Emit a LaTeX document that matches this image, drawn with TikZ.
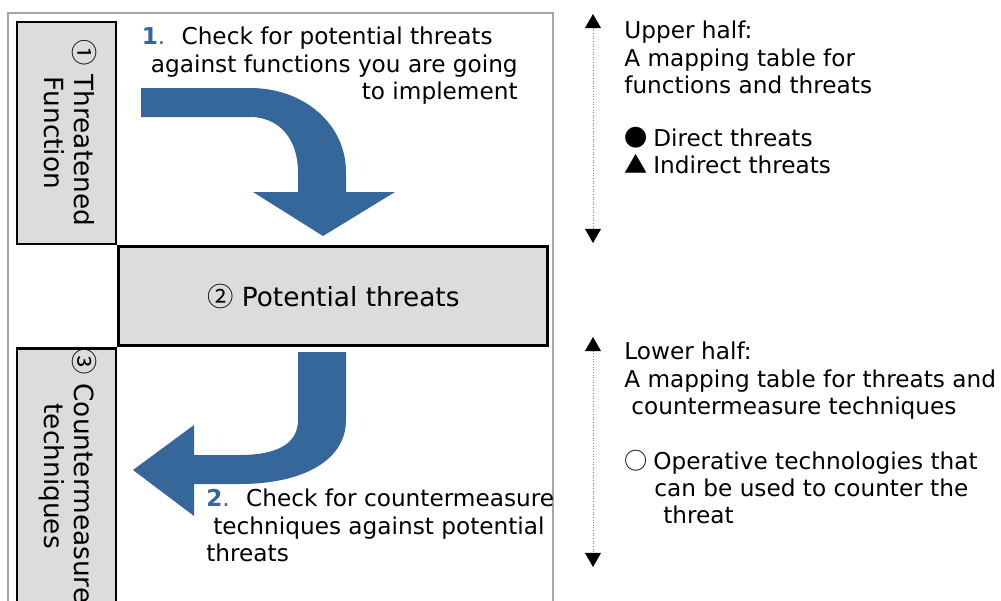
\documentclass[tikz,border=0pt]{standalone}
\usepackage{graphicx}
\usepackage{fontspec}
\setmainfont{DejaVu Sans}
\newfontfamily\markfont{Noto Sans CJK JP}
\usepackage{tikz}
\usetikzlibrary{arrows.meta, positioning}
\definecolor{flowblue}{HTML}{35679A}
\definecolor{boxgray}{HTML}{DCDCDC}
\definecolor{framegray}{HTML}{A6A6A6}
\tikzstyle{box} = [rectangle, line width=1.6pt, draw=black, fill=boxgray, inner sep=0pt, align=center, font=\fontsize{15}{17}\selectfont]
\tikzstyle{note} = [inner sep=0pt, font=\fontsize{13.2}{15.4}\selectfont]
\tikzstyle{flow} = [fill=flowblue, draw=none]
\tikzstyle{frame} = [draw=framegray, line width=0.6pt]
\tikzstyle{span} = [densely dotted, draw=gray, line width=0.5pt, {Triangle[width=9pt,length=8pt,color=black]}-{Triangle[width=9pt,length=8pt,color=black]}]
\newcommand{\stepno}[1]{\textcolor{flowblue}{\textbf{#1}.}\hspace{0.7em}}
\newcommand{\mk}[1]{{\markfont #1}}

\begin{document}
\begin{tikzpicture}[x=0.2mm, y=-0.2mm]
		\useasboundingbox (0,0) rectangle (1001,601);
		\draw [frame] (8,620) |- (553,13) -- (553,620);
		\node (Threatened) [box, minimum width=1.98cm, minimum height=4.44cm] at (66.5,133) {\rotatebox{-90}{\begin{tabular}{@{}c@{}}\mk{①} Threatened\\Function\end{tabular}}};
		\node (Potential) [box, minimum width=8.58cm, minimum height=1.98cm, anchor=north west] at (Threatened.south east) {\mk{②} Potential threats};
		\node (Counter) [box, minimum width=1.98cm, minimum height=5.1cm, anchor=north east] at (Potential.south west) {\rotatebox{-90}{\begin{tabular}{@{}c@{}}\mk{③} Countermeasure\\techniques\end{tabular}}};
		\fill [flow] (141,88) -- (250,88) .. controls (305,88) and (346,125) .. (346,172) -- (346,192) -- (395,192) -- (323,236) -- (253,192) -- (298,192) -- (298,172) .. controls (298,140) and (280,117) .. (250,117) -- (141,117) -- cycle;
		\fill [flow] (298,352) -- (346,352) -- (346,420) .. controls (346,462) and (300,484) .. (240,484) -- (194,484) -- (194,516) -- (133,470) -- (194,425) -- (194,455) -- (240,455) .. controls (280,455) and (298,442) .. (298,420) -- cycle;
		\node (StepOne) [note, align=right, anchor=north east] at (518,27) {\stepno{1}Check for potential threats\hspace*{0.5cm}\\against functions you are going\\to implement};
		\node (StepTwo) [note, align=left, anchor=north west] at (206,489) {\stepno{2}Check for countermeasure\\\hspace*{0.14cm}techniques against potential\\threats};
		\coordinate (UpperTop) at (593,14);
		\coordinate (UpperBottom) at (593,243);
		\coordinate (LowerTop) at (593,337);
		\coordinate (LowerBottom) at (593,567);
		\draw [span] (UpperTop) -- (UpperBottom);
		\draw [span] (LowerTop) -- (LowerBottom);
		\node (UpperHalf) [note, align=left, anchor=north west] at (624,21) {Upper half:\\A mapping table for\\functions and threats\\[15pt]\mk{●}\hspace{0.25em}Direct threats\\\mk{▲}\hspace{0.25em}Indirect threats};
		\node (LowerHalf) [note, align=left, anchor=north west] at (624,342) {Lower half:\\A mapping table for threats and\\\hspace*{0.14cm}countermeasure techniques\\[16pt]\mk{○}\hspace{0.25em}Operative technologies that\\\hspace*{0.6cm}can be used to counter the\\\hspace*{0.78cm}threat};
\end{tikzpicture}
\end{document}
